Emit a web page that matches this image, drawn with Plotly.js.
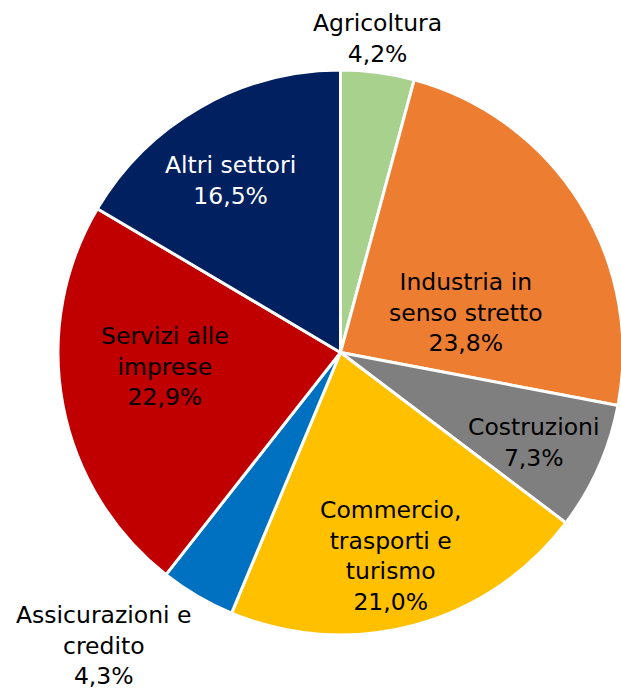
<!DOCTYPE html>
<html>
<head>
<meta charset="utf-8">
<script src="https://cdn.plot.ly/plotly-3.0.1.min.js"></script>
<style>
html, body { margin: 0; padding: 0; background: #ffffff; overflow: hidden; width: 621px; height: 689px; }
#chart { width: 626px; height: 689px; }
</style>
</head>
<body>
<div id="chart"></div>
<script>
// Data
const sectors = ['Agricoltura', 'Industria in<br>senso stretto', 'Costruzioni', 'Commercio,<br>trasporti e<br>turismo', 'Assicurazioni e<br>credito', 'Servizi alle<br>imprese', 'Altri settori'];
const shares = [4.2, 23.8, 7.3, 21.0, 4.3, 22.9, 16.5];
const colors = ['#A9D18E', '#ED7D31', '#7F7F7F', '#FFC000', '#0070C0', '#C00000', '#002060'];
const textColors = ['#000000', '#000000', '#000000', '#000000', '#000000', '#000000', '#ffffff'];

// Label positions (pixels) - layout only
const labelPos = [[377, 38], [466, 312], [533, 442], [391, 556], [104, 645], [165, 366], [230, 180]];

const W = 626, H = 689;
const fmt = v => v.toFixed(1).replace('.', ',') + '%';

const trace = {
  type: 'pie',
  labels: sectors,
  values: shares,
  sort: false,
  direction: 'clockwise',
  rotation: 0,
  textinfo: 'none',
  hoverinfo: 'label+percent',
  marker: { colors: colors, line: { color: '#ffffff', width: 3 } },
  domain: { x: [58 / W, 623 / W], y: [54 / H, 619 / H] },
  showlegend: false
};

const annotations = sectors.map((s, i) => ({
  xref: 'paper', yref: 'paper',
  x: labelPos[i][0] / W, y: 1 - labelPos[i][1] / H,
  xanchor: 'center', yanchor: 'middle',
  showarrow: false,
  align: 'center',
  text: s + '<br>' + fmt(shares[i]),
  font: { family: 'DejaVu Sans, Verdana, sans-serif', size: 23.5, color: textColors[i] }
}));

const layout = {
  width: W, height: H,
  margin: { l: 0, r: 0, t: 0, b: 0 },
  paper_bgcolor: '#ffffff',
  plot_bgcolor: '#ffffff',
  annotations: annotations
};

Plotly.newPlot('chart', [trace], layout, { displayModeBar: false, staticPlot: true });
</script>
</body>
</html>
